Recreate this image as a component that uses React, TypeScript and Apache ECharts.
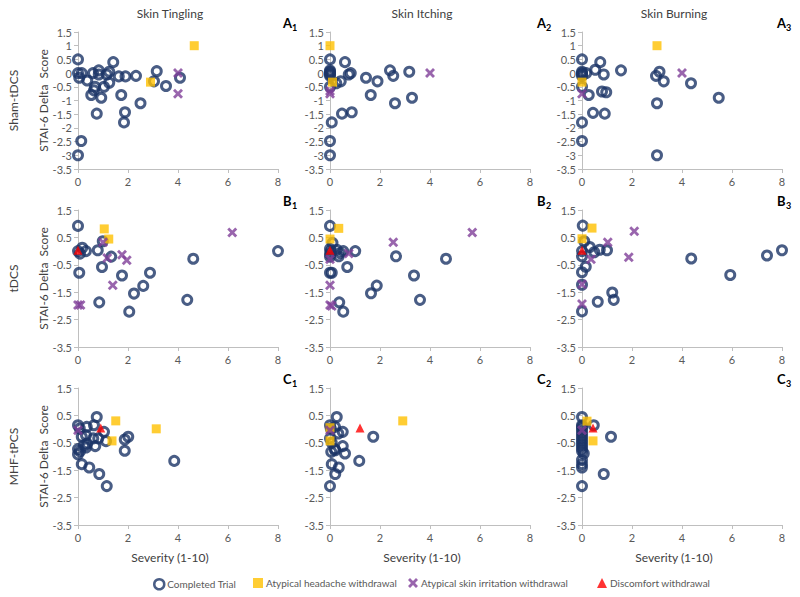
import React, { useEffect, useRef } from "react";
import * as echarts from "echarts";

type P = [number, number];

// Column / row labels
const columnTitles = ["Skin Tingling", "Skin Itching", "Skin Burning"];
const rowTitles = ["Sham-tDCS", "tDCS", "MHF-tPCS"];
const panelLetters = ["A", "B", "C"];
const seriesNames = [
  "Completed Trial",
  "Atypical headache withdrawal",
  "Atypical skin irritation withdrawal",
  "Discomfort withdrawal",
];

// ---- Row A: Sham-tDCS ----
const shamTinglingCompleted: P[] = [[0,0.5],[0,0],[0.15,0],[0.05,-0.17],[0.37,-0.27],[0.6,0],[0.83,0.1],[0.83,-0.05],[0.68,-0.5],[0.64,-0.63],[0.53,-0.8],[0.93,-0.9],[1.04,-0.5],[1.25,-0.35],[1.25,0.05],[1.15,-0.05],[1.41,0.4],[1.63,-0.12],[1.9,-0.12],[1.73,-0.8],[1.88,-1.43],[1.84,-1.8],[0.75,-1.48],[2.32,-0.1],[2.5,-1.1],[3.15,0.07],[3.04,-0.3],[3.52,-0.47],[4.08,-0.17],[0.13,-2.48],[0,-3]];
const shamTinglingHeadache: P[] = [[4.65,1],[2.9,-0.33]];
const shamTinglingSkin: P[] = [[4,0],[4,-0.75]];
const shamTinglingDiscomfort: P[] = [];

const shamItchingCompleted: P[] = [[0,0.5],[0,0.1],[0,0.05],[0,0],[0,-0.05],[0,-0.1],[0,-0.5],[0.25,-0.37],[0.43,-0.3],[0.6,0.4],[0.75,-0.05],[0.83,0],[1.44,-0.17],[1.9,-0.3],[1.63,-0.8],[2.4,0.1],[2.53,-0.1],[3.17,0.05],[3.28,-0.9],[2.6,-1.1],[0.48,-1.48],[0.87,-1.43],[0.07,-1.8],[0,-2.48],[0,-3]];
const shamItchingHeadache: P[] = [[0,1],[0.1,-0.33]];
const shamItchingSkin: P[] = [[4,0],[0,-0.75],[0,-0.65]];
const shamItchingDiscomfort: P[] = [];

const shamBurningCompleted: P[] = [[0,0.5],[0,0.05],[0,0],[0,-0.05],[0,-0.1],[0.17,0],[0,-0.5],[0.53,0.12],[0.73,0.4],[0.87,-0.05],[0.27,-0.8],[0.8,-0.67],[0.97,-0.7],[0.44,-1.45],[0.91,-1.48],[1.56,0.1],[0,-1.8],[0,-2.48],[2.96,-0.1],[3.1,0.05],[3.27,-0.3],[3,-1.1],[3,-3],[4.36,-0.37],[5.47,-0.9]];
const shamBurningHeadache: P[] = [[3,1],[0,-0.33]];
const shamBurningSkin: P[] = [[4,0],[0,-0.75]];
const shamBurningDiscomfort: P[] = [];

// ---- Row B: tDCS ----
const tdcsTinglingCompleted: P[] = [[0,0.92],[0,0],[0.17,0.12],[0.32,0],[0.08,-0.09],[0.05,-0.79],[0.79,0.03],[0.99,0.36],[0.96,-0.58],[1.33,-0.2],[1.76,-0.89],[0.85,-1.87],[2.24,-1.55],[2.61,-1.27],[2.88,-0.79],[2.05,-2.21],[4.37,-1.78],[4.61,-0.28],[8,0]];
const tdcsTinglingHeadache: P[] = [[1.05,0.81],[1.23,0.44]];
const tdcsTinglingSkin: P[] = [[0.1,-1.97],[0,-1.97],[1,0.32],[1.17,-0.25],[1.76,-0.13],[1.95,-0.33],[1.39,-1.25],[6.17,0.68]];
const tdcsTinglingDiscomfort: P[] = [[0,0.03]];

const tdcsItchingCompleted: P[] = [[0,0.92],[0,0.08],[0.03,0],[0.1,0.3],[0.27,0.05],[0.4,-0.07],[0.35,-0.19],[0.53,0],[1.01,0],[0,-0.79],[0.07,-0.79],[0.69,-0.58],[2.64,-0.19],[4.64,-0.28],[3.36,-0.89],[1.87,-1.26],[1.64,-1.54],[3.6,-1.78],[0.37,-1.87],[0.53,-2.21],[0,-0.1],[0,-0.2]];
const tdcsItchingHeadache: P[] = [[0.35,0.83],[0,0.44]];
const tdcsItchingSkin: P[] = [[0,-0.3],[0.75,-0.09],[2.53,0.32],[5.69,0.68],[0,-1.25],[0,-1.97],[0.07,-2]];
const tdcsItchingDiscomfort: P[] = [[0,0.03]];

const tdcsBurningCompleted: P[] = [[0.03,0.93],[0.09,0.36],[0,0],[0,-0.19],[0.31,0.15],[0.49,-0.04],[0.71,0.05],[1,0.03],[0.15,-0.57],[0,-0.77],[0,-1.23],[0,-2.2],[0.63,-1.85],[1.21,-1.51],[1.27,-1.78],[4.37,-0.27],[5.93,-0.87],[7.4,-0.16],[8,0.03]];
const tdcsBurningHeadache: P[] = [[0.4,0.84],[0,0.45]];
const tdcsBurningSkin: P[] = [[0.36,-0.3],[1.03,0.32],[1.87,-0.22],[2.09,0.72],[0,-1.21],[0,-1.93]];
const tdcsBurningDiscomfort: P[] = [[0,0.03]];

// ---- Row C: MHF-tPCS ----
const tpcsTinglingCompleted: P[] = [[0,0.14],[0.07,0.02],[0.35,0.08],[0.64,0.14],[0.75,0.44],[1.04,-0.1],[0.15,-0.28],[0.32,-0.22],[0.61,-0.34],[0.81,-0.34],[1.12,-0.44],[0.37,-0.53],[0.24,-0.59],[0.32,-0.67],[0.69,-0.62],[0,-0.73],[0.08,-0.81],[0,-0.92],[0.15,-1.28],[0.45,-1.4],[0.85,-1.64],[1.15,-2.08],[1.87,-0.38],[2.01,-0.28],[1.87,-0.79],[3.85,-1.16]];
const tpcsTinglingHeadache: P[] = [[1.51,0.3],[1.36,-0.43],[3.13,0.01]];
const tpcsTinglingSkin: P[] = [[0,-0.04]];
const tpcsTinglingDiscomfort: P[] = [[0.91,0.04]];

const tpcsItchingCompleted: P[] = [[0,0.14],[0.03,0.02],[0.27,0.44],[0.2,0.08],[0.51,-0.1],[0.33,-0.16],[0,-0.34],[0.51,-0.62],[0.19,-0.73],[0.05,-0.83],[0.21,-0.77],[0.6,-0.89],[0.07,-1.28],[0.35,-1.4],[0.21,-1.64],[0,-2.08],[1.17,-1.16],[1.73,-0.28],[0.07,-0.5]];
const tpcsItchingHeadache: P[] = [[2.91,0.3],[0,-0.43],[0,0.05]];
const tpcsItchingSkin: P[] = [[0,-0.04]];
const tpcsItchingDiscomfort: P[] = [[1.2,0.04]];

const tpcsBurningCompleted: P[] = [[0,0.44],[0,0.14],[0.47,0.14],[0,0.08],[0,0],[0,-0.1],[0,-0.2],[0,-0.3],[0,-0.4],[0,-0.5],[0,-0.6],[0,-0.7],[0,-0.8],[0.07,-0.89],[0,-1.13],[0,-1.28],[0,-1.4],[0.87,-1.64],[1.16,-0.28],[0,-2.08]];
const tpcsBurningHeadache: P[] = [[0.2,0.29],[0.44,-0.43]];
const tpcsBurningSkin: P[] = [[0,-0.04]];
const tpcsBurningDiscomfort: P[] = [[0.44,0.04]];

const panels: P[][][] = [
  [shamTinglingCompleted, shamTinglingHeadache, shamTinglingSkin, shamTinglingDiscomfort],
  [shamItchingCompleted, shamItchingHeadache, shamItchingSkin, shamItchingDiscomfort],
  [shamBurningCompleted, shamBurningHeadache, shamBurningSkin, shamBurningDiscomfort],
  [tdcsTinglingCompleted, tdcsTinglingHeadache, tdcsTinglingSkin, tdcsTinglingDiscomfort],
  [tdcsItchingCompleted, tdcsItchingHeadache, tdcsItchingSkin, tdcsItchingDiscomfort],
  [tdcsBurningCompleted, tdcsBurningHeadache, tdcsBurningSkin, tdcsBurningDiscomfort],
  [tpcsTinglingCompleted, tpcsTinglingHeadache, tpcsTinglingSkin, tpcsTinglingDiscomfort],
  [tpcsItchingCompleted, tpcsItchingHeadache, tpcsItchingSkin, tpcsItchingDiscomfort],
  [tpcsBurningCompleted, tpcsBurningHeadache, tpcsBurningSkin, tpcsBurningDiscomfort],
];

const FONT = "Lato";
const NAVY = "#1B3566";
const GOLD = "#FFC000";
const PURPLE = "#7F3F98";
const RED = "#FF0000";
const AXIS = "#BFBFBF";
const TXT = "#595959";
const TITLE = "#404040";
const XPATH = "path://M2,0 L5,3 L8,0 L10,2 L7,5 L10,8 L8,10 L5,7 L2,10 L0,8 L3,5 L0,2 Z";

const colLeft = [78, 330, 582];
const rowTop = [32, 210, 388];
const labelOffset = [205, 207, 195];
const GW = 200;
const GH = 137;

function styleFor(k: number) {
  if (k === 0)
    return { symbol: "circle", symbolSize: 9, itemStyle: { color: "rgba(0,0,0,0)", borderColor: NAVY, borderWidth: 3 } };
  if (k === 1) return { symbol: "rect", symbolSize: 9, itemStyle: { color: GOLD } };
  if (k === 2) return { symbol: XPATH, symbolSize: 10, itemStyle: { color: PURPLE } };
  return { symbol: "triangle", symbolSize: 9, itemStyle: { color: RED } };
}

export default function App() {
  const ref = useRef<HTMLDivElement>(null);
  useEffect(() => {
    document.body.style.margin = "0";
    const chart = echarts.init(ref.current!, null, { renderer: "svg" });
    const grid: any[] = [];
    const xAxis: any[] = [];
    const yAxis: any[] = [];
    const series: any[] = [];
    const graphic: any[] = [];
    for (let i = 0; i < 9; i++) {
      const r = Math.floor(i / 3);
      const c = i % 3;
      grid.push({ left: colLeft[c], top: rowTop[r], width: GW, height: GH });
      xAxis.push({
        gridIndex: i, type: "value", min: 0, max: 8, interval: 2,
        axisLine: { onZero: false, lineStyle: { color: AXIS } },
        axisTick: { show: true, length: 4, lineStyle: { color: AXIS } },
        axisLabel: { color: TXT, fontFamily: FONT, fontSize: 11, margin: 7 },
        splitLine: { show: false },
      });
      yAxis.push({
        gridIndex: i, type: "value", min: -3.5, max: 1.5, interval: r === 0 ? 0.5 : 1,
        axisLine: { show: true, onZero: false, lineStyle: { color: AXIS } },
        axisTick: { show: true, length: 4, lineStyle: { color: AXIS } },
        axisLabel: { color: TXT, fontFamily: FONT, fontSize: 11, margin: 6 },
        splitLine: { show: false },
      });
      panels[i].forEach((data, k) => {
        series.push({
          type: "scatter", name: seriesNames[k], xAxisIndex: i, yAxisIndex: i,
          data, ...styleFor(k), z: 2 + k,
        });
      });
      // panel label
      const lx = colLeft[c] + labelOffset[c];
      const ly = rowTop[r] - 9;
      graphic.push({ type: "text", x: lx, y: ly, style: { text: panelLetters[r], font: `bold 13px ${FONT}`, fill: "#000", textVerticalAlign: "middle" } });
      graphic.push({ type: "text", x: lx + 9, y: ly + 4, style: { text: String(c + 1), font: `bold 9px ${FONT}`, fill: "#000", textVerticalAlign: "middle" } });
    }
    // column titles
    columnTitles.forEach((t, c) => {
      graphic.push({ type: "text", x: colLeft[c] + 92, y: 13, style: { text: t, font: `12px ${FONT}`, fill: TITLE, textAlign: "center", textVerticalAlign: "middle" } });
      graphic.push({ type: "text", x: colLeft[c] + 92, y: 557, style: { text: "Severity (1-10)", font: `12px ${FONT}`, fill: TITLE, textAlign: "center", textVerticalAlign: "middle" } });
    });
    // row titles
    rowTitles.forEach((t, r) => {
      const cy = rowTop[r] + GH / 2;
      graphic.push({ type: "text", x: 13, y: cy, rotation: Math.PI / 2, style: { text: t, font: `12px ${FONT}`, fill: TITLE, textAlign: "center", textVerticalAlign: "middle" } });
      graphic.push({ type: "text", x: 43, y: cy, rotation: Math.PI / 2, style: { text: "STAI-6 Delta  Score", font: `12px ${FONT}`, fill: TITLE, textAlign: "center", textVerticalAlign: "middle" } });
    });
    const legendLeft = [148, 248, 403, 592];
    const legendIcons = [
      { icon: "circle", itemStyle: { color: "rgba(0,0,0,0)", borderColor: NAVY, borderWidth: 2.5 } },
      { icon: "rect", itemStyle: { color: GOLD } },
      { icon: XPATH, itemStyle: { color: PURPLE } },
      { icon: "triangle", itemStyle: { color: RED } },
    ];
    const legend = seriesNames.map((n, k) => ({
      left: legendLeft[k], top: 573, itemWidth: 10, itemHeight: 10, itemGap: 5,
      selectedMode: false,
      textStyle: { color: TXT, fontFamily: FONT, fontSize: 10, padding: [0, 0, 0, -2] },
      data: [{ name: n, ...legendIcons[k] }],
    }));
    chart.setOption({
      animation: false,
      backgroundColor: "#fff",
      grid, xAxis, yAxis, series, graphic, legend,
    });
    return () => chart.dispose();
  }, []);
  return <div ref={ref} style={{ width: 800, height: 597 }} />;
}
